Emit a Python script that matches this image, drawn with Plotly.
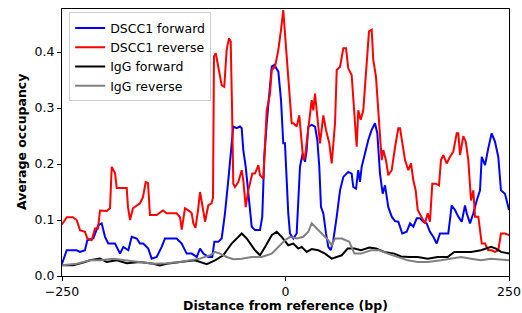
import plotly.graph_objects as go

# DSCC1 forward (blue)
fwd_x = [-250, -244.7, -239.1, -233.6, -229.9, -224.3, -221.7, -215, -209.4, -205.6, -201.9, -198.2,
         -190.7, -187, -185.1, -181.4, -175.8, -172, -166.4, -162.8, -159.1, -153.5, -149.7, -144.1,
         -138.5, -134.8, -127.3, -121.7, -119.9, -116.1, -114.3, -110.5, -104.9, -99.3, -95.6, -91.9,
         -86.4, -81.9, -79.6, -75.2, -71.4, -67.7, -64, -61, -58.4, -54.6, -50.9, -49, -47.2, -44.5,
         -41.6, -37.8, -34.1, -28.5, -26, -23.7, -21, -18.5, -15.4, -12.5, -9.8, -8, -5, -2.5, -0.6,
         1.3, 3.1, 5, 8.7, 12.5, 14.3, 16.2, 19.2, 21.8, 23.7, 25.5, 29.3, 33, 35.6, 37.8, 39.7, 42.3,
         45.3, 47.9, 50.6, 53.5, 57.3, 61, 64.7, 70.2, 74, 75.8, 78.9, 81.4, 83.3, 85.2, 88.9, 92.6,
         96.4, 100.1, 102.7, 105.7, 108.7, 111.3, 115, 118.8, 122.5, 126.2, 130.6, 135.6, 139.3, 143,
         146.8, 150.5, 154.1, 157.9, 161.6, 165.3, 169.1, 172.8, 177.6, 182.1, 185.9, 189.6, 193.3,
         197.1, 200.8, 202.7, 206.4, 210.1, 213.9, 217.6, 219.5, 223.2, 226.8, 230.6, 234.3, 238, 241,
         245.5, 250]
fwd_y = [0.022, 0.046, 0.046, 0.046, 0.043, 0.046, 0.064, 0.067, 0.091, 0.094, 0.070, 0.058,
         0.058, 0.046, 0.040, 0.052, 0.046, 0.070, 0.067, 0.058, 0.058, 0.049, 0.031, 0.034,
         0.052, 0.067, 0.067, 0.067, 0.064, 0.058, 0.052, 0.040, 0.040, 0.034, 0.049, 0.040,
         0.034, 0.034, 0.061, 0.061, 0.067, 0.112, 0.171, 0.219, 0.267, 0.264, 0.267, 0.264, 0.225, 0.195,
         0.147, 0.088, 0.082, 0.082, 0.106, 0.213, 0.273, 0.314, 0.374, 0.377, 0.368, 0.365, 0.314, 0.237, 0.237,
         0.165, 0.112, 0.076, 0.067, 0.076, 0.123, 0.195, 0.219, 0.204, 0.225, 0.267, 0.270, 0.267, 0.243, 0.195, 0.123, 0.112,
         0.076, 0.052, 0.046, 0.064, 0.106, 0.153, 0.177, 0.186, 0.183, 0.159, 0.156, 0.189, 0.168, 0.195, 0.219, 0.243,
         0.261, 0.273, 0.255, 0.183, 0.147, 0.162, 0.123, 0.106, 0.098, 0.097, 0.076, 0.079, 0.094, 0.088,
         0.103, 0.103, 0.097, 0.094, 0.079, 0.070, 0.058, 0.076, 0.076, 0.076, 0.126, 0.118, 0.106,
         0.097, 0.126, 0.112, 0.094, 0.112, 0.135, 0.153, 0.213, 0.198, 0.228, 0.255, 0.240, 0.213, 0.153,
         0.147, 0.118]

# DSCC1 reverse (red)
rev_x = [-250, -244.7, -237.7, -233.6, -229.9, -224.3, -221.7, -216.8, -213.1, -209.7, -207.5, -200,
         -196.3, -194.4, -190.7, -188.8, -177.6, -176.2, -173.9, -170.6, -162.8, -159.4, -156.4, -153.8,
         -151.6, -144.1, -137, -132.9, -121.7, -118, -116.1, -112.4, -106.8, -104.9, -103.1, -100.7,
         -97.9, -95.6, -93.4, -91.7, -90, -86.4, -82.6, -81.1, -80, -78, -75.2, -71.4, -68.5, -65.8,
         -63.2, -61.3, -59.8, -58.4, -56.5, -52.8, -49, -47.2, -44.5, -41.6, -37.1, -34.1, -30.4, -28.5,
         -24.8, -22.9, -21, -17.3, -15.4, -11.7, -8, -5, -2.5, -0.6, 3.9, 6.9, 8.7, 12.5, 15.4, 18.1,
         19.9, 21.8, 25.5, 29.3, 31.1, 33, 36.7, 38.6, 42.3, 45.3, 49, 51.7, 55.4, 57.3, 61, 62.9, 64.7,
         67.7, 70.2, 74, 77.7, 79.6, 81.4, 84.1, 87, 90.8, 93.4, 96.4, 98.2, 101.2, 103.8, 105.7, 107.6,
         109.4, 112.4, 115, 118.8, 122.5, 126.2, 128.1, 130.6, 133.7, 137.4, 140.4, 143, 145.6, 147.9,
         152.3, 156, 159.1, 161.6, 164.2, 168, 171.7, 173.9, 176.5, 180.3, 184, 187.7, 191.5, 193.3,
         195.2, 198.9, 201.6, 204.5, 207.5, 210.1, 212, 215.7, 219.5, 223.2, 226.8, 230.6, 234.3, 238,
         241, 245.5, 250]
rev_y = [0.092, 0.105, 0.105, 0.100, 0.082, 0.079, 0.067, 0.064, 0.085, 0.085, 0.117, 0.116,
         0.121, 0.195, 0.184, 0.157, 0.157, 0.123, 0.100, 0.121, 0.130, 0.141, 0.168, 0.166,
         0.109, 0.109, 0.117, 0.112, 0.112, 0.105, 0.083, 0.121, 0.115, 0.112, 0.094, 0.086,
         0.117, 0.150, 0.130, 0.109, 0.097, 0.126, 0.130, 0.140, 0.392, 0.398, 0.374, 0.341, 0.338, 0.404,
         0.425, 0.419, 0.300, 0.165, 0.159, 0.168, 0.189, 0.171, 0.123, 0.153, 0.183, 0.183, 0.198, 0.180,
         0.174, 0.243, 0.296, 0.326, 0.368, 0.374, 0.404, 0.440, 0.475, 0.434, 0.340, 0.273, 0.273, 0.267, 0.287, 0.243,
         0.207, 0.213, 0.267, 0.314, 0.296, 0.326, 0.267, 0.237, 0.287, 0.261, 0.237, 0.201, 0.273, 0.368, 0.374, 0.389, 0.407,
         0.407, 0.371, 0.359, 0.284, 0.231, 0.296, 0.279, 0.296, 0.374, 0.437, 0.440, 0.386, 0.356, 0.290, 0.255, 0.207,
         0.225, 0.207, 0.180, 0.189, 0.230, 0.264, 0.264, 0.237, 0.207, 0.189, 0.201, 0.171, 0.153, 0.118,
         0.106, 0.094, 0.112, 0.097, 0.165, 0.165, 0.162, 0.207, 0.216, 0.201, 0.213, 0.222, 0.255, 0.255,
         0.216, 0.250, 0.240, 0.207, 0.135, 0.153, 0.106, 0.106, 0.058, 0.058, 0.046, 0.046, 0.043, 0.046,
         0.076, 0.076, 0.073]

# IgG forward (black)
igf_x = [-250, -237.4, -224.3, -218.7, -207.5, -200, -188.8, -177.6, -162.8, -147.9, -140.4, -132.9,
         -118, -101.2, -88.1, -78.9, -69.6, -60.2, -49, -43.4, -34.1, -28.5, -22.9, -15.4, -9.8, -4.3,
         3.1, 8.7, 14.3, 18.1, 23.7, 29.3, 36.7, 44.2, 51.7, 57.3, 62.9, 69.6, 77, 84.5, 93.7, 101.2,
         110.5, 121.7, 129.2, 138.5, 147.9, 159.1, 170.2, 181.4, 188.8, 196.3, 207.5, 218.7, 229.9,
         235.5, 241, 250]
igf_y = [0.019, 0.019, 0.025, 0.028, 0.031, 0.025, 0.028, 0.023, 0.025, 0.022, 0.019, 0.022,
         0.025, 0.028, 0.021, 0.028, 0.037, 0.058, 0.076, 0.067, 0.046, 0.037, 0.052, 0.073, 0.079, 0.070,
         0.055, 0.058, 0.049, 0.052, 0.043, 0.048, 0.046, 0.040, 0.031, 0.034, 0.037, 0.049, 0.049, 0.046, 0.051, 0.049,
         0.043, 0.040, 0.035, 0.034, 0.034, 0.031, 0.034, 0.034, 0.043, 0.043, 0.043, 0.046, 0.052,
         0.049, 0.043, 0.040]

# IgG reverse (gray)
igr_x = [-250, -233.6, -218.7, -207.5, -192.6, -177.6, -162.8, -147.9, -132.9, -118, -106.8, -95.6,
         -84.4, -78.9, -73.2, -65.8, -58.4, -49, -37.8, -26.6, -15.4, -8, -0.6, 5, 12.5, 19.9, 25.5,
         29.3, 34.9, 40.5, 47.9, 51.7, 55.4, 63.1, 71.4, 77, 84.5, 95.6, 104.9, 114.3, 125.5, 136.7,
         147.9, 159.1, 173.9, 185.1, 196.3, 207.5, 218.7, 229.9, 241, 250]
igr_y = [0.019, 0.022, 0.028, 0.028, 0.031, 0.028, 0.025, 0.022, 0.023, 0.025, 0.028, 0.031,
         0.037, 0.043, 0.040, 0.034, 0.030, 0.031, 0.034, 0.034, 0.040, 0.052, 0.064, 0.070, 0.067, 0.070, 0.079,
         0.094, 0.085, 0.076, 0.064, 0.055, 0.067, 0.067, 0.061, 0.040, 0.040, 0.046, 0.046, 0.040, 0.034, 0.028,
         0.025, 0.025, 0.028, 0.031, 0.034, 0.031, 0.028, 0.031, 0.029, 0.028]

x_ticks = [-250, 0, 250]
x_tick_labels = ["\u2212250", "0", "250"]
y_ticks = [0.0, 0.1, 0.2, 0.3, 0.4]
y_tick_labels = ["0.0", "0.1", "0.2", "0.3", "0.4"]
x_title = "Distance from reference (bp)"
y_title = "Average occupancy"

series = [
    ("DSCC1 forward", fwd_x, fwd_y, "#0000ff"),
    ("DSCC1 reverse", rev_x, rev_y, "#ff0000"),
    ("IgG forward", igf_x, igf_y, "#000000"),
    ("IgG reverse", igr_x, igr_y, "#808080"),
]

FONT = "DejaVu Sans"
fig = go.Figure()
for name, xs, ys, col in series:
    fig.add_trace(go.Scatter(x=xs, y=ys, mode="lines", name=name,
                             line=dict(color=col, width=2), cliponaxis=True))

axis_common = dict(showline=True, linecolor="black", linewidth=1, mirror=True,
                   ticks="outside", ticklen=4, tickcolor="black", showgrid=False,
                   zeroline=False, automargin=False,
                   tickfont=dict(family=FONT, size=12.5, color="black"))

fig.update_layout(
    width=522, height=313,
    margin=dict(l=62, r=13, t=9, b=37),
    paper_bgcolor="white", plot_bgcolor="white",
    font=dict(family=FONT, size=12.5, color="black"),
    xaxis=dict(range=[-250, 250], tickvals=x_ticks, ticktext=x_tick_labels, **axis_common),
    yaxis=dict(range=[0, 0.477], tickvals=y_ticks, ticktext=y_tick_labels, **axis_common),
    legend=dict(x=0.016, y=0.987, xanchor="left", yanchor="top",
                bgcolor="rgba(255,255,255,0.8)", bordercolor="#cccccc", borderwidth=1,
                font=dict(family=FONT, size=12.5), tracegroupgap=0,
                itemwidth=30),
    showlegend=True,
    annotations=[
        dict(text="<b>%s</b>" % x_title, xref="paper", yref="paper", x=0.5, y=0,
             xanchor="center", yanchor="middle", yshift=-29, showarrow=False,
             font=dict(family=FONT, size=12.5, color="black")),
        dict(text="<b>%s</b>" % y_title, xref="paper", yref="paper", x=0, y=0.5,
             xanchor="center", yanchor="middle", xshift=-40.5, textangle=-90,
             showarrow=False, font=dict(family=FONT, size=12.5, color="black")),
    ],
)

fig.write_html("out.html", config={"displayModeBar": False},
               post_script="document.body.style.margin='0';document.body.style.padding='0';"
                           "document.body.style.overflow='hidden';")
